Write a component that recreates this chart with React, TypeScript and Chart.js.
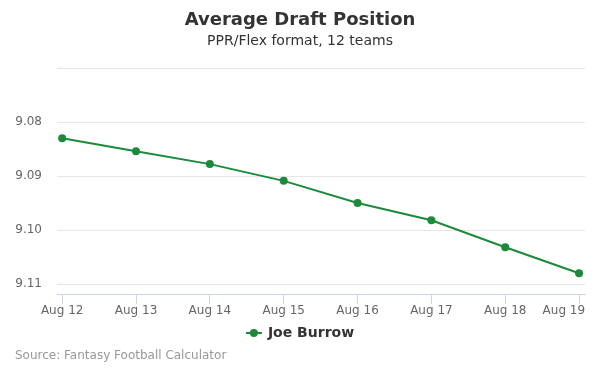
import React, { useEffect, useRef } from "react";
import { Chart, registerables } from "chart.js";

Chart.register(...registerables);

const categories = ["Aug 12", "Aug 13", "Aug 14", "Aug 15", "Aug 16", "Aug 17", "Aug 18", "Aug 19"];
const joeBurrow = [9.083, 9.0854, 9.0878, 9.0909, 9.095, 9.0982, 9.1032, 9.108];
const yTicks = [9.07, 9.08, 9.09, 9.1, 9.11];
const titleText = "Average Draft Position";
const subtitleText = "PPR/Flex format, 12 teams";
const seriesName = "Joe Burrow";
const sourceText = "Source: Fantasy Football Calculator";

const FONT = "'DejaVu Sans', sans-serif";
const GREEN = "#1b8b3b";

const overlayPlugin = {
  id: "overlay",
  afterDraw(chart: any) {
    const ctx = chart.ctx;
    ctx.save();
    ctx.textBaseline = "middle";
    ctx.textAlign = "center";
    ctx.fillStyle = "#333333";
    ctx.font = `bold 18px ${FONT}`;
    ctx.fillText(titleText, 300, 20);
    ctx.font = `14px ${FONT}`;
    ctx.fillText(subtitleText, 300, 41);

    // legend
    ctx.font = `bold 14px ${FONT}`;
    const tw = ctx.measureText(seriesName).width;
    const total = 16 + 6 + tw;
    const sx = 300 - total / 2;
    const ly = 333;
    ctx.strokeStyle = GREEN;
    ctx.lineWidth = 2;
    ctx.beginPath();
    ctx.moveTo(sx, ly);
    ctx.lineTo(sx + 16, ly);
    ctx.stroke();
    ctx.fillStyle = GREEN;
    ctx.beginPath();
    ctx.arc(sx + 8, ly, 4, 0, Math.PI * 2);
    ctx.fill();
    ctx.fillStyle = "#333333";
    ctx.textAlign = "left";
    ctx.fillText(seriesName, sx + 22, ly);

    ctx.font = `12px ${FONT}`;
    ctx.fillStyle = "#999999";
    ctx.fillText(sourceText, 15, 356);
    ctx.restore();
  },
};

export default function App() {
  const ref = useRef<HTMLCanvasElement | null>(null);
  useEffect(() => {
    if (!ref.current) return;
    const chart = new Chart(ref.current, {
      type: "line",
      data: {
        datasets: [
          {
            label: seriesName,
            data: joeBurrow.map((v, i) => ({ x: i, y: v })),
            borderColor: GREEN,
            backgroundColor: GREEN,
            borderWidth: 2,
            pointRadius: 4,
            pointHoverRadius: 4,
            pointBorderWidth: 0,
            tension: 0,
          },
        ],
      },
      options: {
        animation: false,
        responsive: false,
        events: [],
        layout: { padding: { top: 68, right: 15, left: 0, bottom: 0 } },
        plugins: {
          legend: { display: false },
          title: { display: false },
          tooltip: { enabled: false },
        },
        scales: {
          x: {
            type: "linear",
            min: -0.07,
            max: 7.08,
            afterBuildTicks: (scale: any) => {
              scale.ticks = categories.map((_, i) => ({ value: i }));
            },
            afterFit: (scale: any) => {
              scale.height = 81;
              scale.paddingRight = 0;
              scale.paddingLeft = 0;
            },
            ticks: {
              callback: (v: any) => {
                const i = v as number;
                const lbl = categories[i] ?? "";
                return i === categories.length - 1 ? lbl + "        " : lbl;
              },
              color: "#666666",
              font: { family: FONT, size: 12 },
              padding: 0,
              maxRotation: 0,
              autoSkip: false,
            },
            grid: {
              drawOnChartArea: false,
              drawTicks: true,
              tickLength: 10,
              color: "#ccd6eb",
            },
            border: { display: true, color: "#ccd6eb", width: 1 },
          },
          y: {
            type: "linear",
            reverse: true,
            min: 9.07,
            max: 9.11185,
            afterBuildTicks: (scale: any) => {
              scale.ticks = yTicks.map((v) => ({ value: v }));
            },
            afterFit: (scale: any) => {
              scale.width = 57;
            },
            ticks: {
              callback: (v: any) => (Math.abs(v - 9.07) < 1e-6 ? "" : Number(v).toFixed(2)),
              color: "#666666",
              font: { family: FONT, size: 12 },
              padding: 15,
            },
            grid: { color: "#e6e6e6", drawTicks: false },
            border: { display: false },
          },
        },
      },
      plugins: [overlayPlugin],
    } as any);
    return () => chart.destroy();
  }, []);
  return (
    <div style={{ position: "fixed", left: 0, top: 0, width: 600, height: 375, background: "#fff" }}>
      <canvas ref={ref} width={600} height={375} style={{ width: 600, height: 375 }} />
    </div>
  );
}
